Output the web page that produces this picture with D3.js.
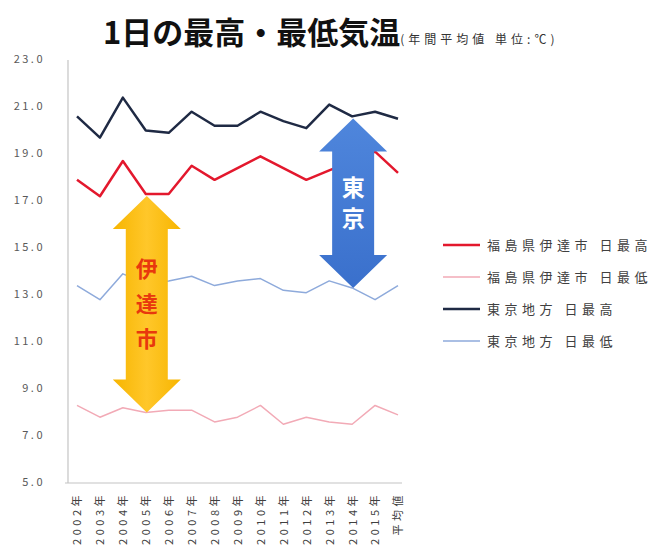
<!DOCTYPE html>
<html>
<head>
<meta charset="utf-8">
<script src="https://cdn.jsdelivr.net/npm/d3@7"></script>
<style>
    body { margin: 0; background: #fff; }
    svg text { font-family: "Noto Sans CJK JP", "Noto Sans", sans-serif; }
</style>
</head>
<body>
<div id="chart"></div>
<script>

// categories (x axis)
const categories = ["2002年", "2003年", "2004年", "2005年", "2006年", "2007年", "2008年",
    "2009年", "2010年", "2011年", "2012年", "2013年", "2014年", "2015年", "平均値"];

// series values (annual average, deg C)
const dateMax   = [17.9, 17.2, 18.7, 17.3, 17.3, 18.5, 17.9, 18.4, 18.9, 18.4, 17.9, 18.3, 18.7, 19.1, 18.2];
const dateMin   = [8.3, 7.8, 8.2, 8.0, 8.1, 8.1, 7.6, 7.8, 8.3, 7.5, 7.8, 7.6, 7.5, 8.3, 7.9];
const tokyoMax  = [20.6, 19.7, 21.4, 20.0, 19.9, 20.8, 20.2, 20.2, 20.8, 20.4, 20.1, 21.1, 20.6, 20.8, 20.5];
const tokyoMin  = [13.4, 12.8, 13.9, 13.5, 13.6, 13.8, 13.4, 13.6, 13.7, 13.2, 13.1, 13.6, 13.3, 12.8, 13.4];

const seriesNames = ["福島県伊達市 日最高", "福島県伊達市 日最低", "東京地方 日最高", "東京地方 日最低"];

// y tick labels
const yTicks = [5, 7, 9, 11, 13, 15, 17, 19, 21, 23];

// range arrows: category, label
const arrowCats = ["2005年", "2014年"];
const arrowLabels = ["伊達市", "東京"];

const width = 663, height = 549;

let svg = d3.select("#chart").append("svg")
    .attr("width", width)
    .attr("height", height);

// title
let title = svg.append("text")
    .attr("x", 103)
    .attr("y", 44)
    .attr("fill", "#111");
title.append("tspan")
    .attr("font-size", 31)
    .attr("font-weight", "bold")
    .text("1日の最高・最低気温");
title.append("tspan")
    .attr("font-size", 12)
    .attr("fill", "#333")
    .attr("letter-spacing", 4)
    .text("(年間平均値 単位:℃)");

// scales
let x = d3.scalePoint()
    .domain(categories)
    .range([77, 398]);

let y = d3.scaleLinear()
    .domain([5, 23])
    .range([483, 60]);

// y axis labels
let yAxis = d3.axisLeft(y)
    .tickValues(yTicks)
    .tickFormat(d3.format(".1f"))
    .tickSize(0)
    .tickPadding(0);

let yAxisGroup = svg.append("g")
    .attr("class", "y-axis axis")
    .attr("transform", "translate(45,-1)")
    .call(yAxis);
yAxisGroup.select(".domain").remove();
yAxisGroup.selectAll("text")
    .attr("font-size", 11)
    .attr("letter-spacing", 2.5)
    .attr("fill", "#595959");

// axis lines
svg.append("line")
    .attr("x1", 68).attr("x2", 68)
    .attr("y1", y(23)).attr("y2", y(5))
    .attr("stroke", "#c4c4c4")
    .attr("stroke-width", 1.2);
svg.append("line")
    .attr("x1", 65).attr("x2", 402)
    .attr("y1", y(5)).attr("y2", y(5))
    .attr("stroke", "#c4c4c4")
    .attr("stroke-width", 1.2);

// x axis labels (rotated)
let xAxis = d3.axisBottom(x)
    .tickSize(0)
    .tickPadding(0);

let xAxisGroup = svg.append("g")
    .attr("class", "x-axis axis")
    .attr("transform", "translate(0," + (y(5) + 9) + ")")
    .call(xAxis);
xAxisGroup.select(".domain").remove();
xAxisGroup.selectAll("text")
    .attr("font-size", 11)
    .attr("letter-spacing", 3.5)
    .attr("fill", "#404040")
    .attr("text-anchor", "end")
    .attr("dy", "0.35em")
    .attr("transform", "rotate(-90)")
    .attr("x", 0)
    .attr("y", 0);

// lines
let series = [
    {name: seriesNames[0], values: dateMax, color: "#e3182d", width: 2.5},
    {name: seriesNames[1], values: dateMin, color: "#f2aab6", width: 1.5},
    {name: seriesNames[2], values: tokyoMax, color: "#1f2a44", width: 2.5},
    {name: seriesNames[3], values: tokyoMin, color: "#8eaadb", width: 1.5}
];

let line = d3.line()
    .x((d, i) => x(categories[i]))
    .y(d => y(d));

svg.selectAll(".series")
    .data(series)
    .enter()
    .append("path")
    .attr("class", "series")
    .attr("fill", "none")
    .attr("stroke", d => d.color)
    .attr("stroke-width", d => d.width)
    .attr("stroke-linejoin", "round")
    .attr("d", d => line(d.values));

// gradients for arrows
let defs = svg.append("defs");
let gradYellow = defs.append("linearGradient").attr("id", "gradYellow")
    .attr("x1", 0).attr("x2", 1).attr("y1", 0).attr("y2", 0);
gradYellow.append("stop").attr("offset", "0%").attr("stop-color", "#f7b500");
gradYellow.append("stop").attr("offset", "50%").attr("stop-color", "#ffc72a");
gradYellow.append("stop").attr("offset", "100%").attr("stop-color", "#f7b500");
let gradBlue = defs.append("linearGradient").attr("id", "gradBlue")
    .attr("x1", 0).attr("x2", 0).attr("y1", 0).attr("y2", 1);
gradBlue.append("stop").attr("offset", "0%").attr("stop-color", "#4f86dc");
gradBlue.append("stop").attr("offset", "100%").attr("stop-color", "#3a70cc");

// double arrow shape
function arrowPath(cx, yTop, yBot) {
    let shaft = 21, head = 34, headH = 33;
    return "M" + cx + "," + yTop +
        "L" + (cx + head) + "," + (yTop + headH) +
        "L" + (cx + shaft) + "," + (yTop + headH) +
        "L" + (cx + shaft) + "," + (yBot - headH) +
        "L" + (cx + head) + "," + (yBot - headH) +
        "L" + cx + "," + yBot +
        "L" + (cx - head) + "," + (yBot - headH) +
        "L" + (cx - shaft) + "," + (yBot - headH) +
        "L" + (cx - shaft) + "," + (yTop + headH) +
        "L" + (cx - head) + "," + (yTop + headH) + "Z";
}

let arrows = [
    {cat: arrowCats[0], hi: dateMax, lo: dateMin, label: arrowLabels[0],
        fill: "url(#gradYellow)", textColor: "#e8380d", size: 22, pitch: 35},
    {cat: arrowCats[1], hi: tokyoMax, lo: tokyoMin, label: arrowLabels[1],
        fill: "url(#gradBlue)", textColor: "#ffffff", size: 23, pitch: 31}
];

arrows.forEach(a => {
    let i = categories.indexOf(a.cat);
    let cx = x(a.cat) + 1;
    let yTop = y(a.hi[i]) + 2;
    let yBot = y(a.lo[i]);

    svg.append("path")
        .attr("d", arrowPath(cx, yTop, yBot))
        .attr("fill", a.fill);

    let chars = Array.from(a.label);
    let mid = (yTop + yBot) / 2;
    svg.selectAll(null)
        .data(chars)
        .enter()
        .append("text")
        .attr("x", cx)
        .attr("y", (d, k) => mid + (k - (chars.length - 1) / 2) * a.pitch)
        .attr("dy", "0.36em")
        .attr("text-anchor", "middle")
        .attr("font-size", a.size)
        .attr("font-weight", "bold")
        .attr("fill", a.textColor)
        .text(d => d);
});

// legend
let legend = svg.append("g")
    .attr("class", "legend")
    .attr("transform", "translate(443,245)");

let legendItem = legend.selectAll(".legend-item")
    .data(series)
    .enter()
    .append("g")
    .attr("class", "legend-item")
    .attr("transform", (d, i) => "translate(0," + (i * 32) + ")");

legendItem.append("line")
    .attr("x1", 0).attr("x2", 37)
    .attr("stroke", d => d.color)
    .attr("stroke-width", d => d.width);

legendItem.append("text")
    .attr("x", 44)
    .attr("dy", "0.36em")
    .attr("font-size", 13)
    .attr("letter-spacing", 4.5)
    .attr("fill", "#404040")
    .text(d => d.name);

</script>
</body>
</html>
